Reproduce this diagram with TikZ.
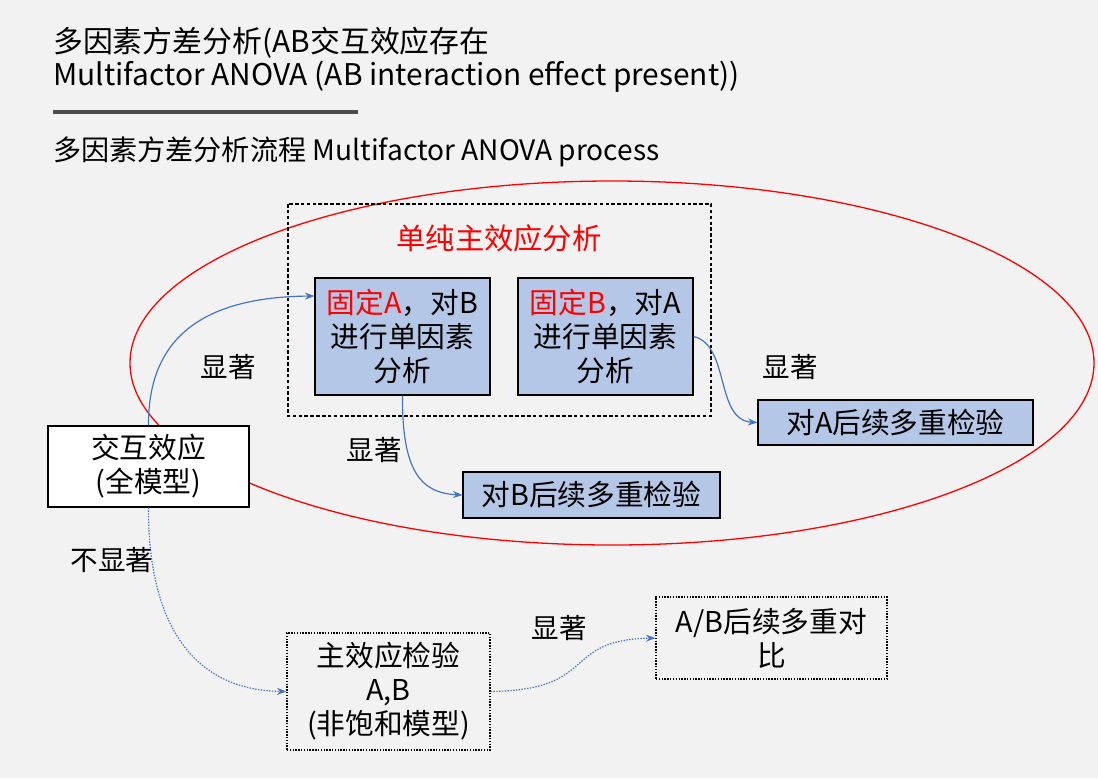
\documentclass[tikz,border=0pt]{standalone}
\usepackage{fontspec}
\setmainfont{Noto Sans CJK SC}
\usetikzlibrary{arrows.meta}
\definecolor{bg}{HTML}{F2F2F2}
\definecolor{lb}{HTML}{B4C7E7}
\definecolor{ab}{HTML}{4472C4}
\begin{document}
\begin{tikzpicture}[x=0.03cm,y=-0.03cm,
  box/.style={draw,line width=1.1pt,align=center,font=\fontsize{24.5}{29}\selectfont,inner sep=0pt},
  lbl/.style={font=\fontsize{23.5}{28}\selectfont},
  arr/.style={ab,line width=1pt,-{Stealth[length=8pt]}}]
\fill[bg] (0,0) rectangle (1098,778);
\useasboundingbox (0,0) rectangle (1098,778);
\node[anchor=west,font=\fontsize{25.5}{30}\selectfont,inner sep=0pt] (t1) at (53,43) {多因素方差分析(AB交互效应存在};
\node[anchor=west,font=\fontsize{25.5}{30}\selectfont,inner sep=0pt] (t2) at (53,77) {Multifactor ANOVA (AB interaction effect present))};
\draw[line width=3.5pt,black!70] (53,112) -- (358,112);
\node[anchor=west,font=\fontsize{24}{28}\selectfont,inner sep=0pt] (st) at (53,152) {多因素方差分析流程 Multifactor ANOVA process};
\draw[red,line width=1.1pt] (612,363) ellipse [x radius=482, y radius=182];
\draw[line width=1.1pt,dash pattern=on 3pt off 2pt] (288,204) rectangle (711,416);
\node[red,font=\fontsize{25}{30}\selectfont] (sm) at (499,238) {单纯主效应分析};
\node[box,fill=lb,minimum width=175*0.03cm,minimum height=117*0.03cm] (b1) at (402.5,336.5) {\textcolor{red}{固定A}，对B\\进行单因素\\分析};
\node[box,fill=lb,minimum width=175*0.03cm,minimum height=117*0.03cm] (b2) at (605.5,336.5) {\textcolor{red}{固定B}，对A\\进行单因素\\分析};
\node[box,fill=lb,minimum width=275*0.03cm,minimum height=45*0.03cm] (ba) at (895.5,422.5) {对A后续多重检验};
\node[box,fill=lb,minimum width=257*0.03cm,minimum height=46*0.03cm] (bb) at (591.5,495) {对B后续多重检验};
\node[box,fill=white,minimum width=201*0.03cm,minimum height=81*0.03cm] (ix) at (148.5,466.5) {交互效应\\(全模型)};
\node[box,dash pattern=on 1.2pt off 1.2pt,minimum width=203*0.03cm,minimum height=117*0.03cm] (me) at (388.5,691.5) {主效应检验\\A,B\\(非饱和模型)};
\node[box,dash pattern=on 1.2pt off 1.2pt,minimum width=231*0.03cm,minimum height=82*0.03cm] (ab) at (771.5,638) {A/B后续多重对\\比};
\node[lbl] (l1) at (228,367) {显著};
\node[lbl] (l2) at (790,367) {显著};
\node[lbl] (l3) at (374,450) {显著};
\node[lbl] (l4) at (112,560) {不显著};
\node[lbl] (l5) at (559,628) {显著};
\draw[arr] (ix.north) .. controls (148,340) and (200,297) .. (b1.west |- 0,296);
\draw[arr] (b2.east) .. controls (730,345) and (715,420) .. (ba.west);
\draw[arr] (b1.south) .. controls (402,470) and (420,493) .. (bb.west);
\draw[arr,dash pattern=on 1.2pt off 1.2pt] (ix.south) .. controls (148,620) and (190,690) .. (me.west);
\draw[arr,dash pattern=on 1.2pt off 1.2pt] (me.east) .. controls (600,690) and (560,640) .. (ab.west);
\end{tikzpicture}
\end{document}
